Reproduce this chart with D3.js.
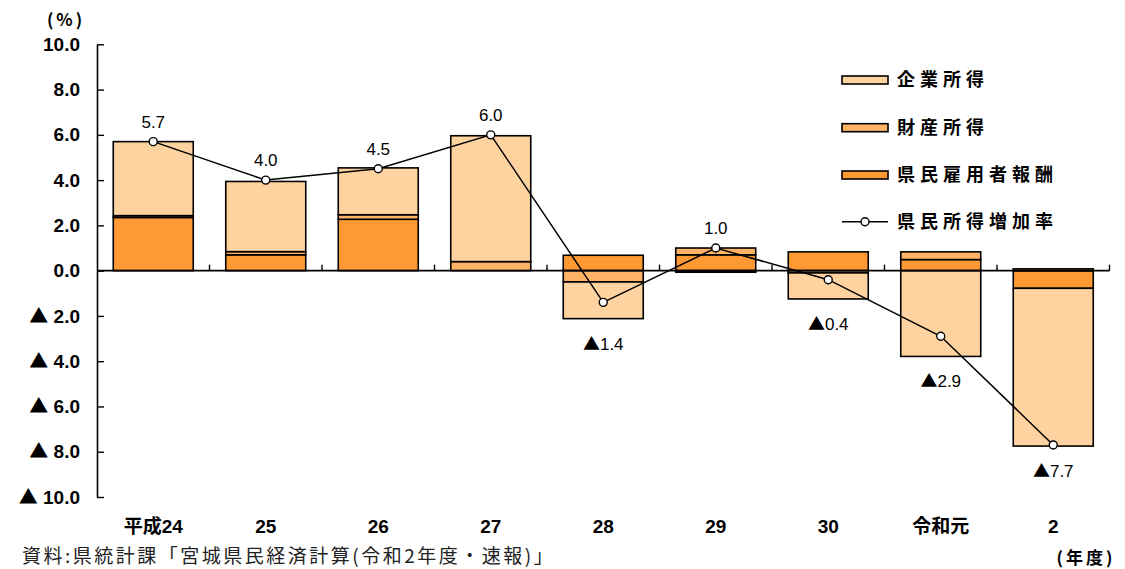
<!DOCTYPE html>
<html>
<head>
<meta charset="utf-8">
<script src="https://cdn.jsdelivr.net/npm/d3@7"></script>
<style>
  body { margin: 0; background: #fff; }
  svg { display: block; }
</style>
</head>
<body>
<svg id="chart" width="1125" height="569"></svg>
<script>
// 県民所得の増加率と寄与度（年度）
const categories = ["平成24", "25", "26", "27", "28", "29", "30", "令和元", "2"];
const employeeComp = [2.35, 0.7, 2.27, 0.0, 0.68, 0.7, 0.83, 0.49, -0.78];   // 県民雇用者報酬
const propertyIncome = [0.08, 0.14, 0.2, 0.4, -0.5, 0.3, -0.1, 0.34, 0.08];  // 財産所得
const corporateIncome = [3.27, 3.1, 2.07, 5.56, -1.62, -0.07, -1.15, -3.79, -6.97]; // 企業所得
const growthRate = [5.7, 4.0, 4.5, 6.0, -1.4, 1.0, -0.4, -2.9, -7.7];         // 県民所得増加率
const yTicks = [-10, -8, -6, -4, -2, 0, 2, 4, 6, 8, 10];

const seriesKeys = ["emp", "prop", "corp"];
const seriesColors = { emp: "#FF9933", prop: "#FFB366", corp: "#FFD39F" };
const legendItems = [
  { label: "企業所得", key: "corp" },
  { label: "財産所得", key: "prop" },
  { label: "県民雇用者報酬", key: "emp" },
  { label: "県民所得増加率", key: "line" }
];

const LATIN = '"Liberation Sans", "Noto Sans CJK JP", sans-serif';
const CJK = '"Noto Sans CJK JP", sans-serif';

// writes a number into a text node, negatives get a full-width ▲ mark
function signedText(sel, v, sep) {
  sel.text(null);
  if (v < 0) {
    sel.append("tspan").attr("font-family", CJK).text("▲");
    sel.append("tspan").text(sep + Math.abs(v).toFixed(1));
  } else {
    sel.append("tspan").text(v.toFixed(1));
  }
}

const svg = d3.select("#chart");

const x = d3.scaleBand()
  .domain(categories)
  .range([97, 1109.5])
  .paddingInner(0.289)
  .paddingOuter(0.1445);

const y = d3.scaleLinear().domain([-10, 10]).range([497, 44.3]);

const rows = categories.map((c, i) => ({
  cat: c, emp: employeeComp[i], prop: propertyIncome[i], corp: corporateIncome[i]
}));

const stacked = d3.stack()
  .keys(seriesKeys)
  .offset(d3.stackOffsetDiverging)(rows);

// stacked bars
svg.append("g")
  .selectAll("g")
  .data(stacked)
  .join("g")
  .attr("fill", d => seriesColors[d.key])
  .selectAll("rect")
  .data(d => d)
  .join("rect")
  .attr("x", d => x(d.data.cat))
  .attr("width", x.bandwidth())
  .attr("y", d => y(Math.max(d[0], d[1])))
  .attr("height", d => Math.abs(y(d[0]) - y(d[1])))
  .attr("stroke", "#000")
  .attr("stroke-width", 1.6);

// y axis
const yAxis = d3.axisLeft(y)
  .tickValues(yTicks)
  .tickSizeInner(-7)
  .tickSizeOuter(0)
  .tickPadding(17);

const gy = svg.append("g")
  .attr("transform", "translate(97,0)")
  .call(yAxis);
gy.select(".domain").attr("stroke", "#000").attr("stroke-width", 1.6);
gy.selectAll(".tick line").attr("stroke", "#000").attr("stroke-width", 1.4);
gy.selectAll(".tick text")
  .attr("font-family", LATIN)
  .attr("font-size", 19)
  .attr("font-weight", "bold")
  .attr("fill", "#000")
  .each(function (v) { signedText(d3.select(this), v, " "); });

// zero line with category boundary ticks
const y0 = y(0);
const [xr0, xr1] = x.range();
svg.append("line")
  .attr("x1", xr0).attr("x2", xr1)
  .attr("y1", y0).attr("y2", y0)
  .attr("stroke", "#000").attr("stroke-width", 1.6);

const gap = (x.step() - x.bandwidth()) / 2;
const boundaries = categories.map(c => x(c) - gap).concat([x(categories[categories.length - 1]) + x.bandwidth() + gap]);
svg.append("g")
  .selectAll("line")
  .data(boundaries.slice(1))
  .join("line")
  .attr("x1", d => d).attr("x2", d => d)
  .attr("y1", y0).attr("y2", y0 - 6)
  .attr("stroke", "#000").attr("stroke-width", 1.4);

// category labels
svg.append("g")
  .selectAll("text")
  .data(categories)
  .join("text")
  .attr("x", d => x(d) + x.bandwidth() / 2)
  .attr("y", 533)
  .attr("text-anchor", "middle")
  .attr("font-family", LATIN)
  .attr("font-size", 19)
  .attr("font-weight", "bold")
  .text(d => d);

// growth rate line
const pts = categories.map((c, i) => ({ cat: c, v: growthRate[i], i }));
const cx = d => x(d.cat) + x.bandwidth() / 2;
svg.append("path")
  .datum(pts)
  .attr("fill", "none")
  .attr("stroke", "#000")
  .attr("stroke-width", 1.5)
  .attr("d", d3.line().x(cx).y(d => y(d.v)));

svg.append("g")
  .selectAll("circle")
  .data(pts)
  .join("circle")
  .attr("cx", cx)
  .attr("cy", d => y(d.v))
  .attr("r", 4)
  .attr("fill", "#fff")
  .attr("stroke", "#000")
  .attr("stroke-width", 1.4);

// value labels: above the point when positive, below the bar when negative
const barBottom = i => d3.min(stacked, s => s[i][0]);
svg.append("g")
  .selectAll("text")
  .data(pts)
  .join("text")
  .attr("x", cx)
  .attr("y", d => d.v >= 0 ? y(d.v) - 14 : y(Math.min(barBottom(d.i), d.v)) + 31)
  .attr("text-anchor", "middle")
  .attr("font-family", LATIN)
  .attr("font-size", 17)
  .attr("fill", "#000")
  .each(function (d) { signedText(d3.select(this), d.v, ""); });

// unit labels
svg.append("text")
  .attr("x", 66).attr("y", 26)
  .attr("text-anchor", "middle")
  .attr("font-family", CJK)
  .attr("font-size", 17)
  .attr("font-weight", "bold")
  .attr("letter-spacing", 3)
  .text("(%)");

svg.append("text")
  .attr("x", 1086).attr("y", 564)
  .attr("text-anchor", "middle")
  .attr("font-family", CJK)
  .attr("font-size", 17)
  .attr("font-weight", "bold")
  .attr("letter-spacing", 3)
  .text("(年度)");

// legend
const legend = svg.append("g");
const legendRowY = [80, 127.7, 175, 221.7];
legendItems.forEach((item, k) => {
  const g = legend.append("g").attr("transform", `translate(842,${legendRowY[k]})`);
  if (item.key === "line") {
    g.append("line").attr("x1", 0).attr("x2", 46).attr("y1", 0).attr("y2", 0)
      .attr("stroke", "#000").attr("stroke-width", 1.5);
    g.append("circle").attr("cx", 23).attr("cy", 0).attr("r", 4)
      .attr("fill", "#fff").attr("stroke", "#000").attr("stroke-width", 1.4);
  } else {
    g.append("rect").attr("x", 0).attr("y", -4).attr("width", 46).attr("height", 8)
      .attr("fill", seriesColors[item.key]).attr("stroke", "#000").attr("stroke-width", 1.6);
  }
  g.append("text")
    .attr("x", 55).attr("y", 0)
    .attr("dy", "0.36em")
    .attr("font-family", CJK)
    .attr("font-size", 18)
    .attr("font-weight", "bold")
    .attr("letter-spacing", 5)
    .text(item.label);
});

// source note
svg.append("text")
  .attr("x", 22).attr("y", 563)
  .attr("font-family", CJK)
  .attr("font-size", 19)
  .attr("letter-spacing", 2.5)
  .attr("fill", "#222")
  .text("資料:県統計課「宮城県民経済計算(令和2年度・速報)」");
</script>
</body>
</html>
